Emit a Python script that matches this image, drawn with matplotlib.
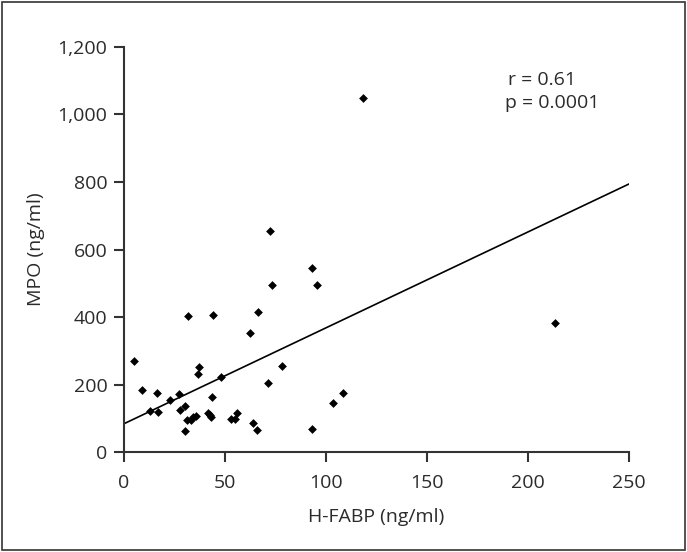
import numpy as np
import matplotlib
matplotlib.use('Agg')
import matplotlib.pyplot as plt
from matplotlib.patches import Rectangle

# H-FABP (ng/ml) vs MPO (ng/ml)
hfabp = [4.8, 9.1, 16.5, 12.8, 16.9, 23.0, 27.1, 27.7, 30.3, 30.1, 31.4, 33.4, 34.4,
         35.5, 31.8, 36.4, 37.3, 41.4, 42.5, 43.3, 43.5, 43.9, 48.1, 52.9, 55.0, 56.1,
         62.6, 63.9, 65.9, 66.5, 71.3, 72.1, 73.4, 78.4, 92.9, 92.9, 95.5, 103.6, 108.3,
         118.5, 213.6]
mpo = [269, 184, 174, 122, 119, 154, 171, 126, 137, 61, 96, 96, 103,
       107, 403, 232, 252, 117, 111, 103, 164, 406, 221, 99, 99, 117,
       353, 85, 66, 416, 206, 655, 495, 255, 544, 69, 495, 145, 175,
       1050, 383]

# regression line as drawn
intercept = 84
slope = 2.84

plt.rcParams['font.family'] = ['Open Sans', 'DejaVu Sans']
txt = '#2b2b2b'
fs = 14

fig = plt.figure(figsize=(6.87, 5.52), dpi=100)
ax = fig.add_axes([0.1805, 0.181, 0.735, 0.734])

ax.scatter(hfabp, mpo, marker='D', s=20, color='black', zorder=3, linewidths=0)
xl = np.array([0, 250])
ax.plot(xl, intercept + slope * xl, color='black', lw=1.2)

ax.set_xlim(0, 250)
ax.set_ylim(0, 1200)
ax.set_xticks([0, 50, 100, 150, 200, 250])
ax.set_yticks([0, 200, 400, 600, 800, 1000, 1200])
ax.set_yticklabels(['0', '200', '400', '600', '800', '1,000', '1,200'])
for s in ['top', 'right']:
    ax.spines[s].set_visible(False)
for s in ['left', 'bottom']:
    ax.spines[s].set_color('#333333')
    ax.spines[s].set_linewidth(1.5)
ax.tick_params(direction='out', length=7, width=1.5, color='#333333',
               labelsize=fs, labelcolor=txt, pad=5)
ax.tick_params(axis='x', pad=9)
ax.set_xlabel('H-FABP (ng/ml)', fontsize=fs, color=txt, labelpad=11)
ax.set_ylabel('MPO (ng/ml)', fontsize=fs, color=txt, labelpad=9)

ax.text(190, 1102, 'r = 0.61', fontsize=fs, color=txt, va='center')
ax.text(188.6, 1034, 'p = 0.0001', fontsize=fs, color=txt, va='center')

fig.patches.append(Rectangle((0.003, 0.004), 0.994, 0.992, transform=fig.transFigure,
                             fill=False, edgecolor='#333333', lw=1.2))

fig.savefig('out.png', dpi=100)
